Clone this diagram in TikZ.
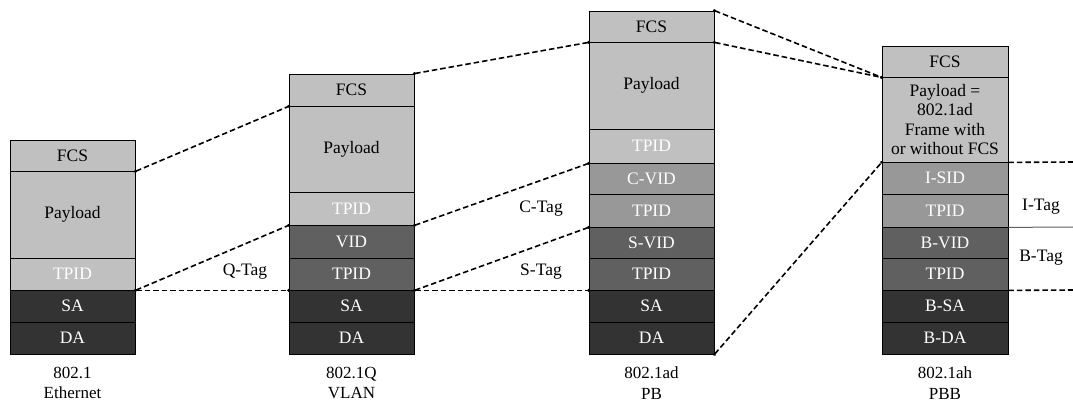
\documentclass[tikz,border=0pt]{standalone}
\usepackage{fontspec}
\setmainfont{Liberation Serif}
\usetikzlibrary{arrows.meta}

\definecolor{fldlight}{HTML}{C0C0C0}
\definecolor{fldmid}{HTML}{989898}
\definecolor{flddark}{HTML}{606060}
\definecolor{flddeep}{HTML}{333333}

\tikzset{
  field/.style={draw=black, line width=0.8pt, minimum width=125pt, inner sep=0pt,
                font=\fontsize{17.5}{19.6}\selectfont, align=center},
  light/.style={field, fill=fldlight, text=black},
  lightw/.style={field, fill=fldlight, text=white},
  mid/.style={field, fill=fldmid, text=white},
  dark/.style={field, fill=flddark, text=white},
  deep/.style={field, fill=flddeep, text=white},
  link/.style={line width=1.6pt, dash pattern=on 5.5pt off 3pt},
  linkdot/.style={link, {Circle[length=2.8pt]}-{Circle[length=2.8pt]}, shorten <=-1.4pt, shorten >=-1.4pt},
  tag/.style={font=\fontsize{17.5}{19.6}\selectfont, inner sep=0pt},
  caption/.style={font=\fontsize{17}{20.5}\selectfont, align=center, inner sep=0pt}
}

\begin{document}
\begin{tikzpicture}[x=1pt, y=-1pt]
\useasboundingbox (0,0) rectangle (1073,403);

% 802.1 Ethernet
\node[light,  minimum height=31pt] (aFCS)  at (72.5,155.5) {FCS};
\node[light,  minimum height=87pt] (aPay)  at (72.5,214.5) {Payload};
\node[lightw, minimum height=32pt] (aTPID) at (72.5,274)   {TPID};
\node[deep,   minimum height=32pt] (aSA)   at (72.5,306)   {SA};
\node[deep,   minimum height=32pt] (aDA)   at (72.5,338)   {DA};
\node[caption] (aCap) at (72.5,383) {802.1\\Ethernet};

% 802.1Q VLAN
\node[light,  minimum height=32pt] (bFCS)   at (351.5,90)    {FCS};
\node[light,  minimum height=86pt] (bPay)   at (351.5,149)   {Payload};
\node[lightw, minimum height=33pt] (bTPID1) at (351.5,208.5) {TPID};
\node[dark,   minimum height=33pt] (bVID)   at (351.5,241.5) {VID};
\node[dark,   minimum height=32pt] (bTPID2) at (351.5,274)   {TPID};
\node[deep,   minimum height=32pt] (bSA)    at (351.5,306)   {SA};
\node[deep,   minimum height=32pt] (bDA)    at (351.5,338)   {DA};
\node[caption] (bCap) at (351.5,383) {802.1Q\\VLAN};

% 802.1ad PB
\node[light,  minimum height=31pt] (cFCS)   at (651.5,26.5)  {FCS};
\node[light,  minimum height=87pt] (cPay)   at (651.5,85.5)  {Payload};
\node[lightw, minimum height=34pt] (cTPID1) at (651.5,146)   {TPID};
\node[mid,    minimum height=31pt] (cCVID)  at (651.5,178.5) {C-VID};
\node[mid,    minimum height=33pt] (cTPID2) at (651.5,210.5) {TPID};
\node[dark,   minimum height=31pt] (cSVID)  at (651.5,242.5) {S-VID};
\node[dark,   minimum height=32pt] (cTPID3) at (651.5,274)   {TPID};
\node[deep,   minimum height=32pt] (cSA)    at (651.5,306)   {SA};
\node[deep,   minimum height=32pt] (cDA)    at (651.5,338)   {DA};
\node[caption] (cCap) at (651.5,383) {802.1ad\\PB};

% 802.1ah PBB
\node[light, minimum height=31pt, minimum width=126pt] (dFCS)   at (945,61.5)  {FCS};
\node[light, minimum height=85pt, minimum width=126pt] (dPay)   at (945,119.5) {Payload =\\802.1ad\\Frame with\\or without FCS};
\node[mid,   minimum height=32pt, minimum width=126pt] (dISID)  at (945,178)   {I-SID};
\node[mid,   minimum height=33pt, minimum width=126pt] (dTPID1) at (945,210.5) {TPID};
\node[dark,  minimum height=31pt, minimum width=126pt] (dBVID)  at (945,242.5) {B-VID};
\node[dark,  minimum height=32pt, minimum width=126pt] (dTPID2) at (945,274)   {TPID};
\node[deep,  minimum height=32pt, minimum width=126pt] (dBSA)   at (945,306)   {B-SA};
\node[deep,  minimum height=32pt, minimum width=126pt] (dBDA)   at (945,338)   {B-DA};
\node[caption] (dCap) at (945,383) {802.1ah\\PBB};

% right-hand edge of the tag brackets
\coordinate (eTop) at (1073,162);
\coordinate (eMid) at (1073,227);
\coordinate (eBot) at (1073,290);

% Ethernet -> VLAN
\draw[linkdot] (aFCS.south east)  -- (bFCS.south west);
\draw[linkdot] (aTPID.south east) -- (bTPID1.south west);
\draw[linkdot] (aTPID.south east) -- (bTPID2.south west);
\node[tag] (qTag) at (245,272) {Q-Tag};

% VLAN -> PB
\draw[linkdot] (bFCS.north east)   -- (cFCS.south west);
\draw[linkdot] (bTPID1.south east) -- (cTPID1.south west);
\draw[linkdot] (bTPID2.south east) -- (cTPID2.south west);
\draw[linkdot] (bTPID2.south east) -- (cTPID3.south west);
\node[tag] (cTag) at (541,209) {C-Tag};
\node[tag] (sTag) at (541,272) {S-Tag};

% PB -> PBB
\draw[linkdot] (cFCS.north east) -- (dFCS.south west);
\draw[linkdot] (cFCS.south east) -- (dFCS.south west);
\draw[linkdot] (cDA.south east)  -- (dPay.south west);

% PBB tag brackets
\draw[link] (dPay.south east) -- (eTop);
\draw[line width=1pt, draw=flddark] (dTPID1.south east) -- (eMid);
\draw[link] (dTPID2.south east) -- (eBot);
\node[tag] (iTag) at (1041,207) {I-Tag};
\node[tag] (bTag) at (1041,258) {B-Tag};
\end{tikzpicture}
\end{document}
